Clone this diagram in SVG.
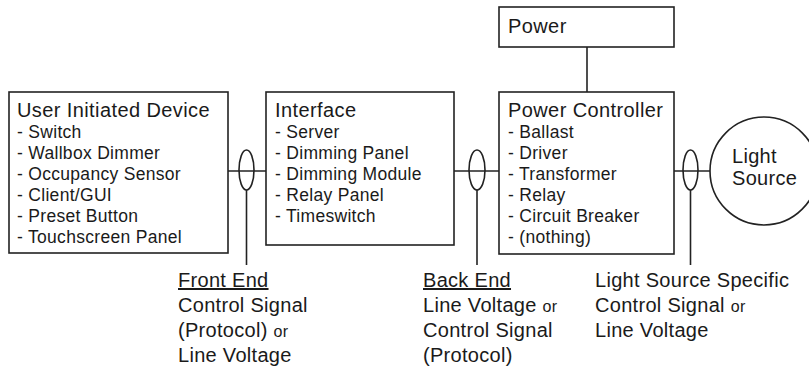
<svg xmlns="http://www.w3.org/2000/svg" width="809" height="370" viewBox="0 0 809 370">
<style>
.box{fill:#fff;stroke:#222;stroke-width:1.6}
.ln{fill:none;stroke:#222;stroke-width:1.6}
text{font-family:"Liberation Sans",Arial,sans-serif;fill:#1a1a1a}
.t{font-size:20px;letter-spacing:0.4px}
.i{font-size:17.5px;letter-spacing:0.3px}
.b{font-size:20px;letter-spacing:0.3px}
.or{font-size:16px}
</style>
<rect width="809" height="370" fill="#fff"/>
<g id="connectors">
<line class="ln" x1="228" y1="171" x2="266" y2="171"/>
<ellipse class="ln" cx="246.5" cy="170" rx="7.5" ry="20"/>
<line class="ln" x1="246.5" y1="190" x2="246.5" y2="265"/>
<line class="ln" x1="454" y1="171" x2="499" y2="171"/>
<ellipse class="ln" cx="477" cy="170" rx="8" ry="20"/>
<line class="ln" x1="477" y1="190" x2="477" y2="265"/>
<line class="ln" x1="674" y1="171" x2="710" y2="171"/>
<ellipse class="ln" cx="690.5" cy="170" rx="7.5" ry="20"/>
<line class="ln" x1="690.5" y1="190" x2="690.5" y2="265"/>
<line class="ln" x1="587" y1="47" x2="587" y2="92"/>
</g>
<g id="user-device">
<rect class="box" x="9" y="92" width="219" height="161"/>
<text class="t" x="17" y="117">User Initiated Device</text>
<text class="i" x="17" y="138">- Switch</text>
<text class="i" x="17" y="159">- Wallbox Dimmer</text>
<text class="i" x="17" y="180">- Occupancy Sensor</text>
<text class="i" x="17" y="201">- Client/GUI</text>
<text class="i" x="17" y="222">- Preset Button</text>
<text class="i" x="17" y="243">- Touchscreen Panel</text>
</g>
<g id="interface">
<rect class="box" x="266" y="92" width="188" height="153"/>
<text class="t" x="275" y="117">Interface</text>
<text class="i" x="275" y="138">- Server</text>
<text class="i" x="275" y="159">- Dimming Panel</text>
<text class="i" x="275" y="180">- Dimming Module</text>
<text class="i" x="275" y="201">- Relay Panel</text>
<text class="i" x="275" y="222">- Timeswitch</text>
</g>
<g id="power">
<rect class="box" x="499" y="7" width="175" height="40"/>
<text class="t" x="508" y="33">Power</text>
</g>
<g id="power-controller">
<rect class="box" x="499" y="92" width="175" height="162"/>
<text class="t" x="508" y="117">Power Controller</text>
<text class="i" x="508" y="138">- Ballast</text>
<text class="i" x="508" y="159">- Driver</text>
<text class="i" x="508" y="180">- Transformer</text>
<text class="i" x="508" y="201">- Relay</text>
<text class="i" x="508" y="222">- Circuit Breaker</text>
<text class="i" x="508" y="243">- (nothing)</text>
</g>
<g id="light-source">
<circle class="box" cx="764" cy="171" r="54"/>
<text class="b" x="732" y="163">Light</text>
<text class="b" x="732" y="185">Source</text>
</g>
<g id="front-end-label">
<text class="b" x="178" y="287" text-decoration="underline">Front End</text>
<text class="b" x="178" y="312">Control Signal</text>
<text class="b" x="178" y="337">(Protocol) <tspan class="or">or</tspan></text>
<text class="b" x="178" y="362">Line Voltage</text>
</g>
<g id="back-end-label">
<text class="b" x="423" y="287" text-decoration="underline">Back End</text>
<text class="b" x="423" y="312">Line Voltage <tspan class="or">or</tspan></text>
<text class="b" x="423" y="337">Control Signal</text>
<text class="b" x="423" y="362">(Protocol)</text>
</g>
<g id="light-specific-label">
<text class="b" x="595" y="287">Light Source Specific</text>
<text class="b" x="595" y="312">Control Signal <tspan class="or">or</tspan></text>
<text class="b" x="595" y="337">Line Voltage</text>
</g>
</svg>
